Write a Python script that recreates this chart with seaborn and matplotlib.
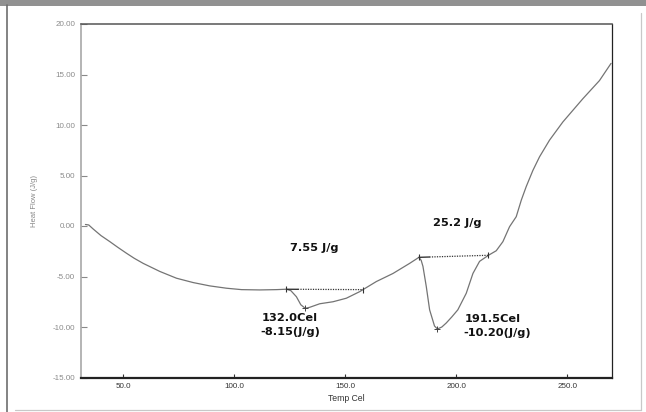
import matplotlib
matplotlib.use("Agg")
import matplotlib.pyplot as plt
import seaborn as sns
import pandas as pd
from matplotlib.lines import Line2D
from matplotlib.patches import Rectangle

# ---------------- data ----------------
temp_c = [33.0, 34.5, 36.5, 40.0, 44.0, 47.5, 51.5, 55.0, 59.0, 66.5, 74.0, 81.5,
          89.0, 96.5, 103.3, 111.5, 119.0, 123.5, 125.5, 128.0, 130.0, 132.0,
          134.0, 138.5, 144.5, 150.5, 156.5, 158.0, 164.0, 171.5, 179.0, 183.2,
          184.2, 185.0, 186.5, 188.0, 190.2, 191.5, 193.5, 195.5, 198.0, 200.7,
          204.5, 207.5, 210.5, 214.5, 218.0, 221.0, 224.0, 227.0, 229.3, 231.5,
          234.5, 237.5, 242.0, 248.0, 257.0, 264.5, 269.7]
heat_flow = [0.15, 0.10, -0.30, -0.95, -1.55, -2.10, -2.70, -3.20, -3.70, -4.50,
             -5.17, -5.60, -5.93, -6.16, -6.30, -6.33, -6.30, -6.26, -6.40, -7.00,
             -7.80, -8.15, -8.05, -7.70, -7.50, -7.15, -6.50, -6.30, -5.50, -4.70,
             -3.70, -3.10, -3.40, -4.00, -6.00, -8.30, -9.90, -10.20, -10.00,
             -9.60, -9.00, -8.30, -6.66, -4.70, -3.50, -2.90, -2.45, -1.55, -0.07,
             0.92, 2.57, 3.90, 5.50, 6.85, 8.50, 10.30, 12.60, 14.40, 16.10]

x_ticks = [50, 100, 150, 200, 250]
x_tick_labels = ["50.0", "100.0", "150.0", "200.0", "250.0"]
y_ticks = [20, 15, 10, 5, 0, -5, -10, -15]
y_tick_labels = ["20.00", "15.00", "10.00", "5.00", "0.00", "-5.00", "-10.00", "-15.00"]

peak_temps = [132.0, 191.5]
peak_flows = [-8.15, -10.20]
enthalpy_labels = ["7.55 J/g", "25.2 J/g"]
baseline_x = [[123.5, 158.0], [183.2, 214.5]]
baseline_y = [[-6.26, -6.30], [-3.10, -2.90]]

x_label = "Temp Cel"
y_label = "Heat Flow (J/g)"

# ---------------- styling ----------------
sns.set_style("white")
plt.rcParams["font.family"] = ["Liberation Sans", "DejaVu Sans"]

W, H = 646, 412
fig = plt.figure(figsize=(W / 100, H / 100), dpi=100)
fig.patch.set_facecolor("white")

ax_l, ax_r, ax_t, ax_b = 81, 611.7, 24, 377.5
ax = fig.add_axes([ax_l / W, 1 - ax_b / H, (ax_r - ax_l) / W, (ax_b - ax_t) / H])

df = pd.DataFrame({"Temp": temp_c, "Heat": heat_flow})
sns.lineplot(data=df, x="Temp", y="Heat", ax=ax, color="#747474", lw=0.9,
             estimator=None, sort=False)

# integration baselines
for bx, by in zip(baseline_x, baseline_y):
    xs = bx[0] + (bx[1] - bx[0]) * 0.15
    ys = by[0] + (by[1] - by[0]) * 0.15
    ax.plot([bx[0], xs], [by[0], ys], color="#222222", lw=0.9)
    ax.plot([xs, bx[1]], [ys, by[1]], color="#333333", lw=0.9, ls=(0, (1, 1)))
    ax.plot(bx, by, ls="none", marker="|", ms=4, mew=0.8, color="#333333")

# peak markers
ax.plot(peak_temps, peak_flows, ls="none", marker="+", ms=4, mew=0.7, color="#444444")

ann_font = dict(family="DejaVu Sans", fontsize=8.2, fontweight="bold", color="#111111")
# enthalpy labels
enth_pos = [(125.0, -2.2), (189.3, 0.27)]
for (tx, ty), lab in zip(enth_pos, enthalpy_labels):
    ax.text(tx, ty, lab, ha="left", va="center", **ann_font)
# peak labels
peak_text_pos = [(112.3, -9.1, -10.45), (203.7, -9.25, -10.6)]
for (tx, y1, y2), t, f in zip(peak_text_pos, peak_temps, peak_flows):
    ax.text(tx, y1, f"{t:.1f}Cel", ha="left", va="center", **ann_font)
    ax.text(tx - 0.4, y2, f"{f:.2f}(J/g)", ha="left", va="center", **ann_font)

ax.set_xlim(31, 270)
ax.set_ylim(-15, 20)
ax.set_xticks(x_ticks)
ax.set_xticklabels(x_tick_labels)
ax.set_yticks(y_ticks)
ax.set_yticklabels(y_tick_labels)

ax.tick_params(axis="y", direction="in", length=4.3, width=0.8, color="#888888",
               labelsize=5.8, labelcolor="#8a8a8a", pad=4.3, left=True)
ax.tick_params(axis="x", direction="in", length=3.2, width=0.8, color="#333333",
               labelsize=5.8, labelcolor="#333333", pad=3.6, bottom=True)

ax.set_xlabel(x_label, fontsize=6.2, color="#333333")
ax.set_ylabel(y_label, fontsize=5.5, color="#888888")
ax.xaxis.set_label_coords(0.5, -0.046)
ax.yaxis.set_label_coords(-0.081, 0.5)

for name, col, lw in [("left", "#a0a0a0", 1.1), ("top", "#555555", 1.1),
                      ("right", "#222222", 0.9), ("bottom", "#222222", 1.6)]:
    ax.spines[name].set_visible(True)
    ax.spines[name].set_color(col)
    ax.spines[name].set_linewidth(lw)

# ---------------- page frame ----------------
def fline(x0, y0, x1, y1, **kw):
    fig.add_artist(Line2D([x0 / W, x1 / W], [1 - y0 / H, 1 - y1 / H],
                          transform=fig.transFigure, **kw))

fig.add_artist(Rectangle((0, 1 - 5.5 / H), 1, 5.5 / H, transform=fig.transFigure,
                         color="#919191", lw=0))
fline(7.3, 5, 7.3, 412, color="#6e6e6e", lw=1.2)
fline(641, 13, 641, 410, color="#c8c8c8", lw=0.9)
fline(15, 410, 641, 410, color="#c8c8c8", lw=0.9)

fig.savefig("out.png", dpi=100, facecolor="white")
